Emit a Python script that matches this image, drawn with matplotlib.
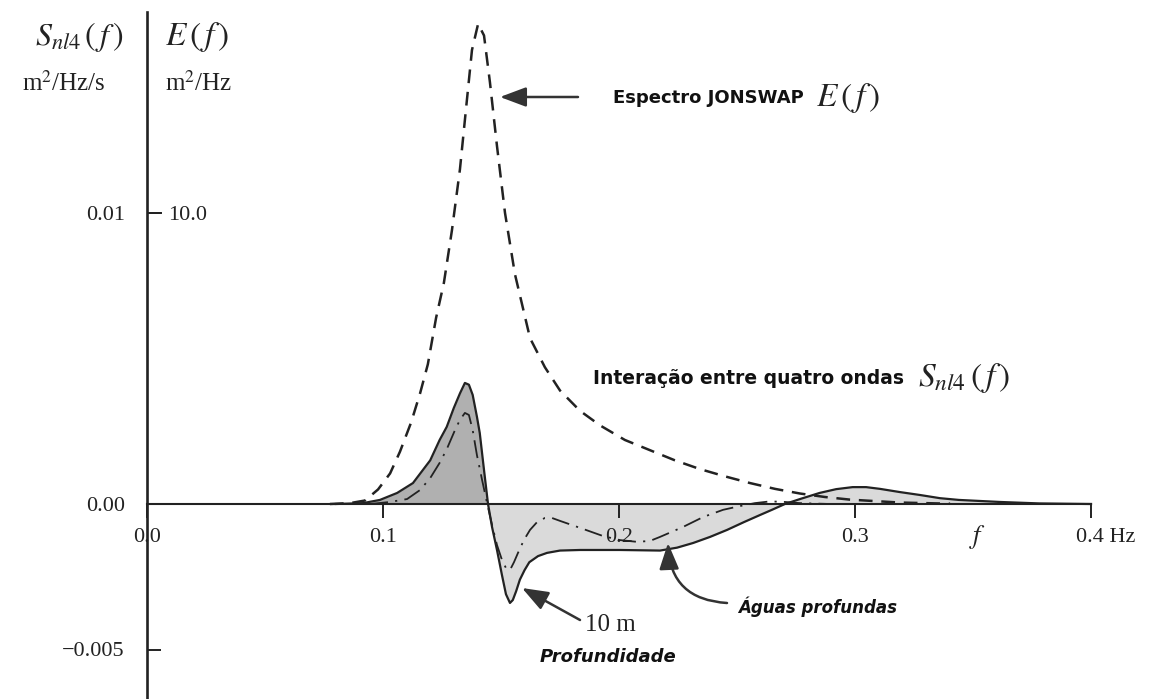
import numpy as np
import matplotlib
matplotlib.use("Agg")
import matplotlib.pyplot as plt

plt.rcParams['font.family'] = ['Liberation Serif', 'DejaVu Serif']
plt.rcParams['mathtext.fontset'] = 'stix'

# Espectro JONSWAP E(f), m2/Hz
f_jonswap = np.array([0.0775, 0.086, 0.0924, 0.0979, 0.103, 0.1072, 0.1119, 0.1157,
                      0.119, 0.1225, 0.1258, 0.1292, 0.1326, 0.1352, 0.1377, 0.1403,
                      0.1428, 0.1453, 0.1483, 0.1517, 0.1559, 0.1623, 0.1686, 0.175,
                      0.1835, 0.192, 0.2025, 0.2131, 0.2237, 0.2343, 0.2449, 0.2555,
                      0.2661, 0.2767, 0.2873, 0.2979, 0.319, 0.3403])
e_jonswap = np.array([0.0, 0.03, 0.12, 0.5, 1.05, 1.8, 2.8, 3.8,
                      4.8, 6.4, 7.6, 9.4, 11.5, 13.6, 15.6, 16.5,
                      16.1, 14.5, 12.3, 10.0, 7.9, 5.7, 4.7, 3.9,
                      3.2, 2.7, 2.2, 1.85, 1.5, 1.2, 0.95, 0.72,
                      0.52, 0.36, 0.24, 0.15, 0.05, 0.01])

# Snl4 em aguas profundas (linha cheia)
f_deep = np.array([0.080, 0.0915, 0.0987, 0.106, 0.1127, 0.120, 0.124, 0.127, 0.130,
                   0.1326, 0.1347, 0.1364, 0.138, 0.1398, 0.141, 0.1428, 0.1445,
                   0.1462, 0.1483, 0.1504, 0.1521, 0.1538, 0.155, 0.1564, 0.158,
                   0.160, 0.162, 0.1657, 0.1695, 0.175, 0.1835, 0.2004, 0.2174,
                   0.2246, 0.2314, 0.2386, 0.2458, 0.253, 0.2597, 0.2648, 0.2703,
                   0.2767, 0.285, 0.292, 0.299, 0.3047, 0.3106, 0.319, 0.3275,
                   0.336, 0.344, 0.3614, 0.378, 0.400])
s_deep = np.array([0.0, 0.00003, 0.00014, 0.00038, 0.00072, 0.0015, 0.0022, 0.00265, 0.0033,
                   0.0038, 0.00416, 0.0041, 0.00375, 0.0030, 0.00244, 0.00117, 0.0,
                   -0.00079, -0.00158, -0.00244, -0.0031, -0.0034, -0.0033, -0.0030, -0.0026,
                   -0.00227, -0.0020, -0.00179, -0.00168, -0.0016, -0.00158, -0.00158, -0.0016,
                   -0.0015, -0.00134, -0.00113, -0.00089, -0.00062, -0.00038, -0.0002, 0.0,
                   0.00017, 0.00038, 0.00051, 0.00058, 0.00058, 0.00052, 0.00041, 0.00031,
                   0.0002, 0.00014, 0.00007, 0.00002, 0.0])

# Snl4 com 10 m de profundidade (traco-ponto)
f_10m = np.array([0.0945, 0.103, 0.1102, 0.1157, 0.120, 0.1242, 0.1271, 0.1305, 0.1326,
                  0.1347, 0.1364, 0.138, 0.1398, 0.142, 0.1441, 0.1462, 0.1483, 0.1504,
                  0.1521, 0.1538, 0.1555, 0.1572, 0.1597, 0.1623, 0.1653, 0.1686, 0.1716,
                  0.175, 0.1835, 0.1932, 0.2004, 0.2076, 0.2131, 0.2174, 0.2271, 0.2356,
                  0.2441, 0.2513, 0.2576, 0.264, 0.2703, 0.2767, 0.2894, 0.387])
s_10m = np.array([0.0, 0.00007, 0.00017, 0.00048, 0.00089, 0.00144, 0.0019, 0.00254, 0.00289,
                  0.00313, 0.00306, 0.00254, 0.00168, 0.00082, 0.00003, -0.00072, -0.00141, -0.00192,
                  -0.0022, -0.00227, -0.0020, -0.00168, -0.00124, -0.00089, -0.00062, -0.00048, -0.00048,
                  -0.00058, -0.00082, -0.0011, -0.00124, -0.0013, -0.00127, -0.00113, -0.00079, -0.00045,
                  -0.0002, -0.00007, 0.00003, 0.00009, 0.00007, 0.00003, 0.0, 0.0])

x_ticks = [0.0, 0.1, 0.2, 0.3, 0.4]
x_labels = ['0.0', '0.1', '0.2', '0.3', '']
y_ticks = [-0.005, 0.0, 0.01]
y_labels = ['\u22120.005', '0.00', '0.01']
e_ticks = [10.0]
e_labels = ['10.0']

W, H = 1153, 699
def px(x, y):
    return x / W, 1 - y / H

ink = '#222222'
fig = plt.figure(figsize=(W / 100, H / 100), dpi=100)
ax = fig.add_axes([0, 0, 1, 1])
ax.set_xlim(-147 / 2360, 1006 / 2360)
ylo, yhi = -195 / 29100, 504 / 29100
ax.set_ylim(ylo, yhi)

# area sombreada
lobe = f_deep <= 0.1445
ax.fill_between(f_deep, s_deep, 0, where=lobe, color='#b0b0b0', lw=0, zorder=1)
ax.fill_between(f_deep, s_deep, 0, where=~lobe | (f_deep == 0.1445), color='#dadada', lw=0, zorder=1)
ax.plot(f_deep, s_deep, color=ink, lw=1.6, zorder=3)
ax.plot(f_10m, s_10m, color=ink, lw=1.3, ls=(0, (10, 4, 1.2, 4)), zorder=3)

ax2 = ax.twinx()
ax2.set_ylim(ylo * 1000, yhi * 1000)
ax2.plot(f_jonswap, e_jonswap, color=ink, lw=1.8, ls=(0, (5.5, 3.5)), zorder=3)

# eixos
for s in ['top', 'right']:
    ax.spines[s].set_visible(False)
ax.spines['left'].set_position(('data', 0))
ax.spines['bottom'].set_position(('data', 0))
ax.spines['left'].set_bounds(ylo, 492 / 29100)
ax.spines['bottom'].set_bounds(0, 0.4)
ax.spines['left'].set_linewidth(1.9)
ax.spines['bottom'].set_linewidth(1.5)
ax.spines['left'].set_color(ink)
ax.spines['bottom'].set_color(ink)
ax.spines['bottom'].set_zorder(4)

ax.set_xticks(x_ticks, x_labels)
ax.set_yticks(y_ticks, y_labels)
ax.tick_params(axis='x', direction='out', length=10, width=1.4, pad=7, labelsize=16,
               colors=ink)
ax.tick_params(axis='y', direction='in', length=10, width=1.4, pad=16, labelsize=16,
               colors=ink)

for s in ['top', 'bottom', 'left']:
    ax2.spines[s].set_visible(False)
ax2.spines['right'].set_position(('data', 0))
ax2.spines['right'].set_color('none')
ax2.set_yticks(e_ticks, e_labels)
ax2.tick_params(axis='y', direction='out', length=11, width=1.4, pad=4, labelsize=16,
                colors=ink)

ax.annotate('0.4 Hz', xy=(0.4, 0), xytext=(-11, -24), textcoords='offset points',
            ha='left', va='center', fontsize=16, color=ink)
ax.annotate(r'$f$', xy=(0.352, 0), xytext=(0, -24), textcoords='offset points',
            ha='center', va='center', fontsize=19, color=ink)

# cabecalhos dos eixos
fig.text(*px(79, 37), r'$S_{nl4}\,(\,f\,)$', ha='center', va='center', fontsize=23, color=ink)
fig.text(*px(64, 83), r'm$^2$/Hz/s', ha='center', va='center', fontsize=18, color=ink)
fig.text(*px(165, 37), r'$E\,(\,f\,)$', ha='left', va='center', fontsize=24, color=ink)
fig.text(*px(165, 83), r'm$^2$/Hz', ha='left', va='center', fontsize=18, color=ink)

# anotacoes
arrow = dict(arrowstyle='-|>,head_length=0.8,head_width=0.3', color='#333333',
             lw=1.8, mutation_scale=20, shrinkA=0, shrinkB=0)
bold = dict(family='DejaVu Sans', weight='bold', color='#111111')

ax.annotate('', xy=((500 - 147) / 2360, (504 - 97) / 29100),
            xytext=((578 - 147) / 2360, (504 - 97) / 29100), arrowprops=arrow)
fig.text(*px(613, 98), 'Espectro JONSWAP', ha='left', va='center', fontsize=13, **bold)
fig.text(*px(816, 98), r'$E\,(\,f\,)$', ha='left', va='center', fontsize=24, color=ink)

fig.text(*px(593, 378), 'Interação entre quatro ondas', ha='left', va='center',
         fontsize=13.5, **bold)
fig.text(*px(918, 378), r'$S_{nl4}\,(\,f\,)$', ha='left', va='center', fontsize=24, color=ink)

ax.annotate('', xy=((668 - 147) / 2360, (504 - 543) / 29100),
            xytext=((727 - 147) / 2360, (504 - 603) / 29100),
            arrowprops=dict(arrow, connectionstyle='arc3,rad=-0.45'))
fig.text(*px(738, 607), 'Águas profundas', ha='left', va='center', fontsize=12,
         style='italic', **bold)

ax.annotate('', xy=((522 - 147) / 2360, (504 - 588) / 29100),
            xytext=((580 - 147) / 2360, (504 - 620) / 29100), arrowprops=arrow)
fig.text(*px(585, 625), '10 m', ha='left', va='center', fontsize=18, color=ink)
fig.text(*px(540, 657), 'Profundidade', ha='left', va='center', fontsize=13,
         style='italic', **bold)

fig.savefig('out.png', dpi=100, facecolor='white')
